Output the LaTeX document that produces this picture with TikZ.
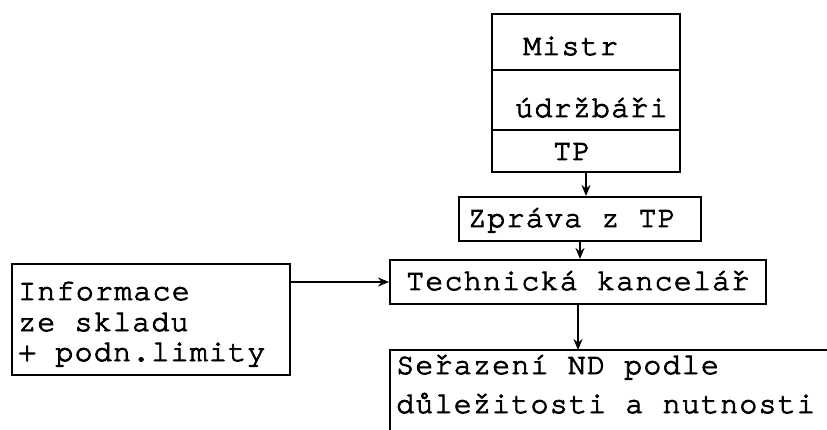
\documentclass[tikz,border=0pt]{standalone}
\usepackage{fontspec}
\setmonofont[LetterSpace=4,FakeBold=3]{TeX Gyre Cursor}
\usetikzlibrary{arrows.meta}
\begin{document}
\begin{tikzpicture}[x=1pt,y=-1pt,
  box/.style={draw,line width=2pt,inner sep=0pt,minimum width=#1},
  txt/.style={anchor=base west,inner sep=0pt,font=\ttfamily\fontsize{30}{30}\selectfont},
  arr/.style={line width=2pt,-{Stealth[length=11pt,width=9pt]}}]
\useasboundingbox (0,0) rectangle (827,430);
% top stacked box
\node[box=188pt,minimum height=158pt] (top) at (586,93) {};
\draw[line width=1.6pt] (top.west |- 0,70) -- (top.east |- 0,70);
\draw[line width=1.6pt] (top.west |- 0,130) -- (top.east |- 0,130);
\node[txt] (mistr) at (523,55) {Mistr};
\node[txt] (udr) at (515,117) {údržbáři};
\node[txt] (tp) at (553,160) {TP};
% Zpráva z TP
\node[box=242pt,minimum height=44pt] (zp) at (580,219) {};
\node[txt] (zpt) at (468,227) {Zpráva z TP};
% Technická kancelář
\node[box=376pt,minimum height=44pt] (tk) at (578,282) {};
\node[txt] (tkt) at (406,290) {Technická kancelář};
% Informace box
\node[box=278pt,minimum height=111pt] (info) at (151,319.5) {};
\node[txt] (i1) at (18,300) {Informace};
\node[txt] (i2) at (18,331) {ze skladu};
\node[txt] (i3) at (18,361) {+ podn.limity};
% Seřazení (open box)
\coordinate (ser) at (578,350);
\draw[line width=2pt] (390,432) -- (390,350) -- (829,350);
\node[txt] (s1) at (396,374) {Seřazení ND podle};
\node[txt] (s2) at (396,413) {důležitosti a nutnosti};
% connectors
\draw[arr] (top.south) -- (top.south |- zp.north);
\draw[arr] (zp.south) -- (zp.south |- tk.north);
\draw[arr] (tk.south) -- (tk.south |- ser);
\draw[arr] (info.east |- tk.west) -- (tk.west);
\end{tikzpicture}
\end{document}
